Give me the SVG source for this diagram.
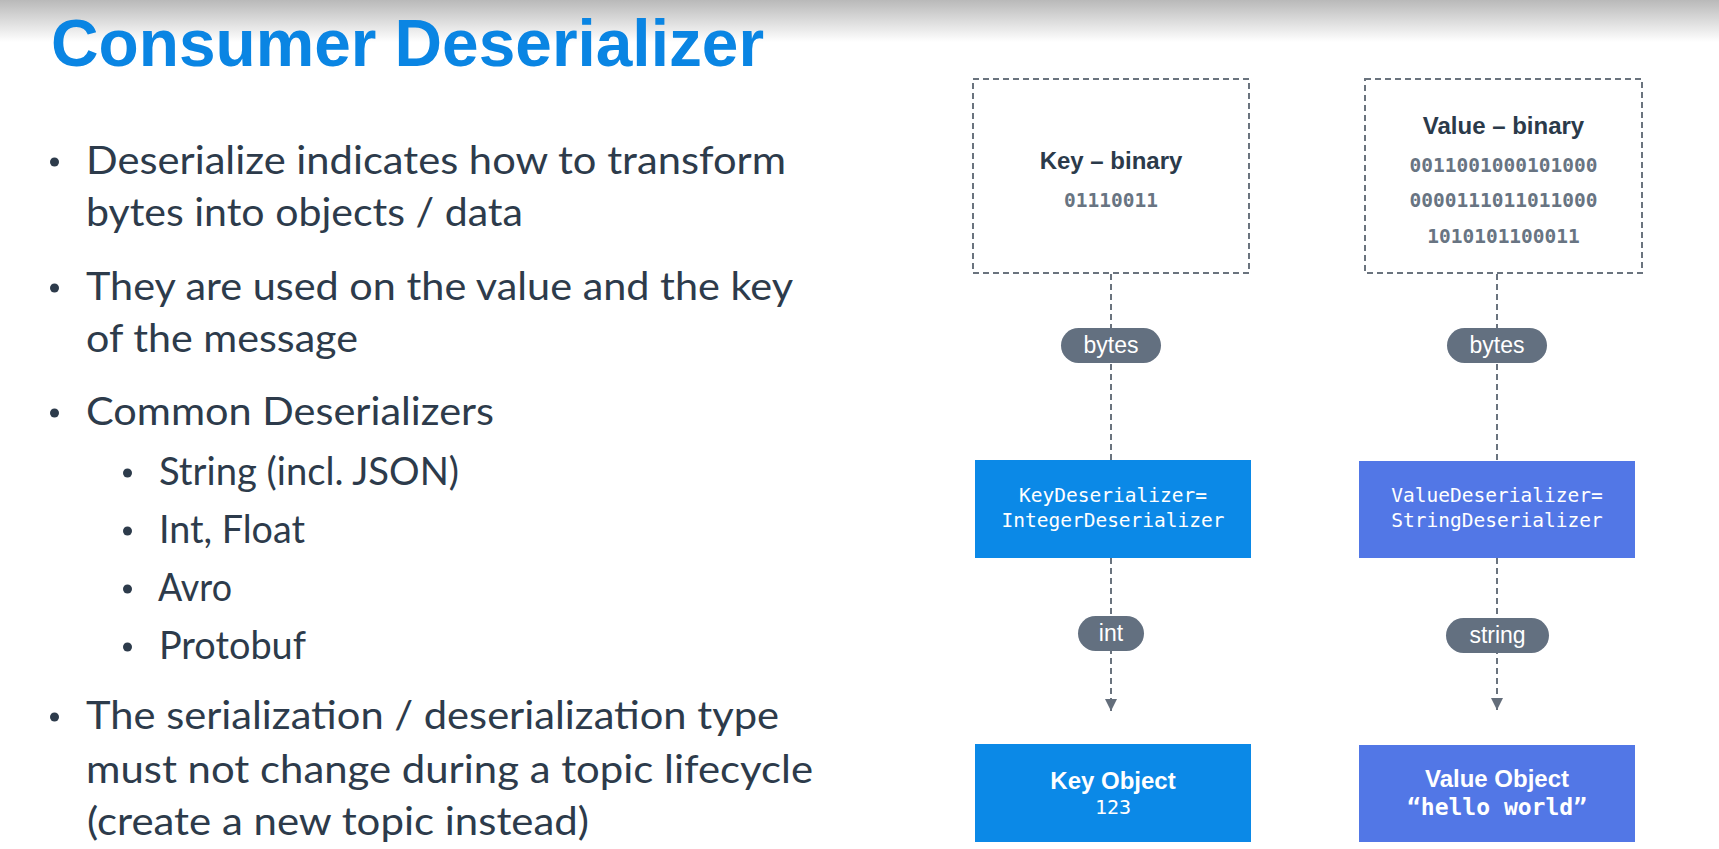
<svg xmlns="http://www.w3.org/2000/svg" width="1719" height="849" viewBox="0 0 1719 849">
  <defs>
    <linearGradient id="topShade" x1="0" y1="0" x2="0" y2="1">
      <stop offset="0" stop-color="#b9b9b9"/>
      <stop offset="1" stop-color="#ffffff"/>
    </linearGradient>
    <marker id="arrowHead" viewBox="0 0 12 12" refX="12" refY="6" markerWidth="12" markerHeight="12" markerUnits="userSpaceOnUse" orient="auto">
      <path d="M0,0 L12,6 L0,12 Z" fill="#646e7b"/>
    </marker>
    <style>
      .title { font-family: "Liberation Sans", Arial, sans-serif; font-weight: bold; font-size: 66px; fill: #0a85e3; }
      .body { font-family: Lato, "Open Sans", sans-serif; font-size: 39px; fill: #2d3b4b; }
      .dot { fill: #2d3b4b; }
      .frame { fill: #ffffff; stroke: #6a737e; stroke-width: 2; stroke-dasharray: 6 4; }
      .head { font-family: "Liberation Sans", Arial, sans-serif; font-weight: bold; font-size: 24px; fill: #2b3a4a; text-anchor: middle; }
      .bits { font-family: "DejaVu Sans Mono", "Liberation Mono", monospace; font-weight: bold; font-size: 19.5px; fill: #687482; text-anchor: middle; }
      .pill { fill: #637080; }
      .pillText { font-family: "Liberation Sans", Arial, sans-serif; font-size: 23px; fill: #ffffff; text-anchor: middle; }
      .keyFill { fill: #0b89e7; }
      .valueFill { fill: #5277e6; }
      .codeText { font-family: "DejaVu Sans Mono", "Liberation Mono", monospace; font-size: 19.5px; fill: #ffffff; text-anchor: middle; }
      .objHead { font-family: "Liberation Sans", Arial, sans-serif; font-weight: bold; font-size: 24px; fill: #ffffff; text-anchor: middle; }
      .objVal { font-family: "DejaVu Sans Mono", "Liberation Mono", monospace; font-size: 20px; fill: #ffffff; text-anchor: middle; }
      .objStr { font-family: "DejaVu Sans Mono", "Liberation Mono", monospace; font-weight: bold; font-size: 23px; fill: #ffffff; text-anchor: middle; }
      .link { fill: none; stroke: #6a737e; stroke-width: 2; stroke-dasharray: 6 4; }
    </style>
  </defs>

  <!-- slide background with soft shading at the top edge -->
  <rect x="0" y="0" width="1719" height="849" fill="#ffffff"/>
  <rect x="0" y="0" width="1719" height="42" fill="url(#topShade)"/>

  <text class="title" x="51" y="66" textLength="713" lengthAdjust="spacingAndGlyphs">Consumer Deserializer</text>

  <!-- bullet list -->
  <g id="bullets">
    <circle class="dot" cx="54.5" cy="162" r="4.5"/>
    <text class="body" x="86" y="174" textLength="700" lengthAdjust="spacingAndGlyphs">Deserialize indicates how to transform</text>
    <text class="body" x="86" y="226" textLength="437" lengthAdjust="spacingAndGlyphs">bytes into objects / data</text>

    <circle class="dot" cx="54.5" cy="288" r="4.5"/>
    <text class="body" x="86" y="300" textLength="707" lengthAdjust="spacingAndGlyphs">They are used on the value and the key</text>
    <text class="body" x="86" y="352" textLength="272" lengthAdjust="spacingAndGlyphs">of the message</text>

    <circle class="dot" cx="54.5" cy="413" r="4.5"/>
    <text class="body" x="86" y="425" textLength="408" lengthAdjust="spacingAndGlyphs">Common Deserializers</text>

    <circle class="dot" cx="127.5" cy="473" r="4.5"/>
    <text class="body" x="159" y="485" textLength="300" lengthAdjust="spacingAndGlyphs">String (incl. JSON)</text>
    <circle class="dot" cx="127.5" cy="531" r="4.5"/>
    <text class="body" x="159" y="543" textLength="146" lengthAdjust="spacingAndGlyphs">Int, Float</text>
    <circle class="dot" cx="127.5" cy="589" r="4.5"/>
    <text class="body" x="158" y="601" textLength="74" lengthAdjust="spacingAndGlyphs">Avro</text>
    <circle class="dot" cx="127.5" cy="647" r="4.5"/>
    <text class="body" x="159" y="659" textLength="147" lengthAdjust="spacingAndGlyphs">Protobuf</text>

    <circle class="dot" cx="54.5" cy="717" r="4.5"/>
    <text class="body" x="86" y="729" textLength="693" lengthAdjust="spacingAndGlyphs">The serialization / deserialization type</text>
    <text class="body" x="86" y="783" textLength="727" lengthAdjust="spacingAndGlyphs">must not change during a topic lifecycle</text>
    <text class="body" x="87" y="835" textLength="502" lengthAdjust="spacingAndGlyphs">(create a new topic instead)</text>
  </g>

  <!-- connectors -->
  <g id="connectors">
    <line class="link" x1="1111" y1="274" x2="1111" y2="460"/>
    <line class="link" x1="1111" y1="558" x2="1111" y2="711" marker-end="url(#arrowHead)"/>
    <line class="link" x1="1497" y1="274" x2="1497" y2="461"/>
    <line class="link" x1="1497" y1="558" x2="1497" y2="710" marker-end="url(#arrowHead)"/>
  </g>

  <!-- key column -->
  <g id="key-binary">
    <rect class="frame" x="973" y="79" width="276" height="194"/>
    <text class="head" x="1111" y="169">Key – binary</text>
    <text class="bits" x="1111" y="207">01110011</text>
  </g>
  <g id="label-key-bytes">
    <rect class="pill" x="1061" y="328" width="100" height="35" rx="17.5"/>
    <text class="pillText" x="1111" y="353">bytes</text>
  </g>
  <g id="key-deserializer">
    <rect class="keyFill" x="975" y="460" width="276" height="98"/>
    <text class="codeText" x="1113" y="502">KeyDeserializer=</text>
    <text class="codeText" x="1113" y="527">IntegerDeserializer</text>
  </g>
  <g id="label-int">
    <rect class="pill" x="1078" y="616" width="66" height="35" rx="17.5"/>
    <text class="pillText" x="1111" y="641">int</text>
  </g>
  <g id="key-object">
    <rect class="keyFill" x="975" y="744" width="276" height="98"/>
    <text class="objHead" x="1113" y="789">Key Object</text>
    <text class="objVal" x="1113" y="814">123</text>
  </g>

  <!-- value column -->
  <g id="value-binary">
    <rect class="frame" x="1365" y="79" width="277" height="194"/>
    <text class="head" x="1503.5" y="134">Value – binary</text>
    <text class="bits" x="1503.5" y="172">0011001000101000</text>
    <text class="bits" x="1503.5" y="207">0000111011011000</text>
    <text class="bits" x="1503.5" y="243">1010101100011</text>
  </g>
  <g id="label-value-bytes">
    <rect class="pill" x="1447" y="328" width="100" height="35" rx="17.5"/>
    <text class="pillText" x="1497" y="353">bytes</text>
  </g>
  <g id="value-deserializer">
    <rect class="valueFill" x="1359" y="461" width="276" height="97"/>
    <text class="codeText" x="1497" y="502">ValueDeserializer=</text>
    <text class="codeText" x="1497" y="527">StringDeserializer</text>
  </g>
  <g id="label-string">
    <rect class="pill" x="1446" y="618" width="103" height="35" rx="17.5"/>
    <text class="pillText" x="1497.5" y="643">string</text>
  </g>
  <g id="value-object">
    <rect class="valueFill" x="1359" y="745" width="276" height="97"/>
    <text class="objHead" x="1497" y="787">Value Object</text>
    <text class="objStr" x="1497" y="815">“hello world”</text>
  </g>
</svg>
